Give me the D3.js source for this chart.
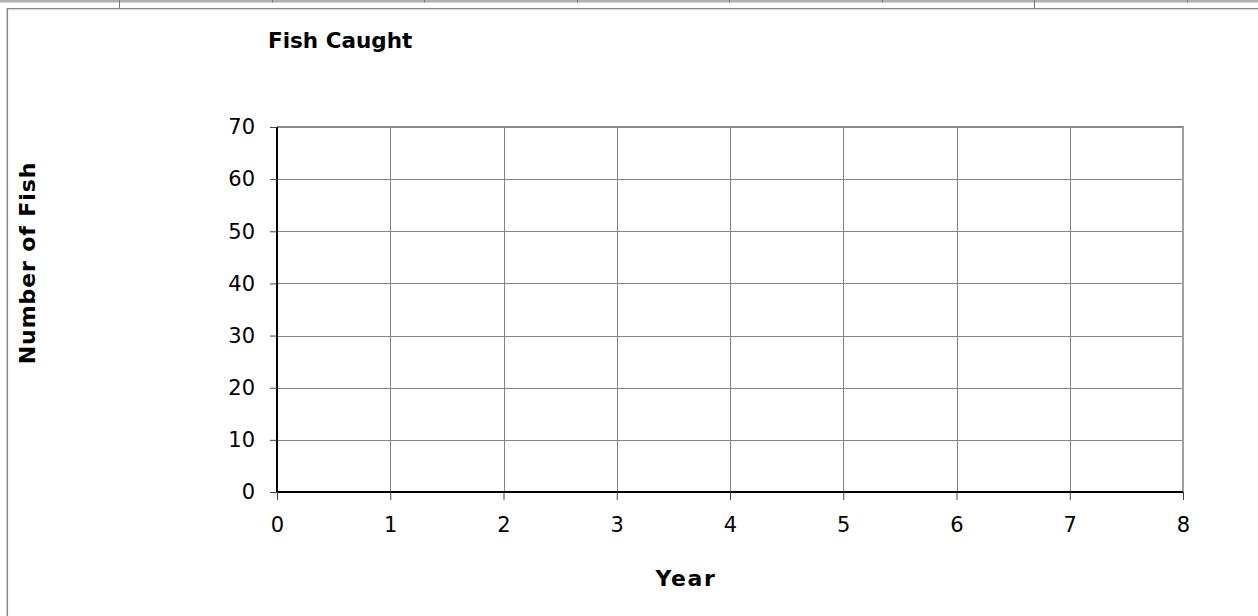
<!DOCTYPE html>
<html>
<head>
<meta charset="utf-8">
<script src="https://cdn.jsdelivr.net/npm/d3@7"></script>
<style>
  html, body { margin: 0; padding: 0; background: #fff; }
  svg { display: block; }
  text { font-family: "DejaVu Sans", Verdana, sans-serif; fill: #000; }
</style>
</head>
<body>
<div id="chart"></div>
<script>
// Axis ranges and tick values for the empty catch log
const years = [0, 1, 2, 3, 4, 5, 6, 7, 8];
const fishTicks = [0, 10, 20, 30, 40, 50, 60, 70];
const fishCaught = [];            // no yearly counts entered yet
const sheetColumns = [119, 272, 424, 577, 729, 882, 1034, 1187];

const W = 1258, H = 616;
const plot = { left: 277, right: 1183, top: 127, bottom: 492 };

const svg = d3.select("#chart").append("svg")
  .attr("width", W).attr("height", H);

// spreadsheet strip behind the chart object
svg.append("rect").attr("x", 0).attr("y", 0).attr("width", W).attr("height", 2.5)
  .attr("fill", "#b0b0b0");
svg.selectAll(".colmark").data(sheetColumns).join("line")
  .attr("x1", d => d + 0.5).attr("x2", d => d + 0.5)
  .attr("y1", 0).attr("y2", (d, i) => (i === 0 || i === 6) ? 9 : 2.5)
  .attr("stroke", "#777").attr("stroke-width", 1);

// chart area frame
svg.append("line").attr("x1", 7).attr("x2", W).attr("y1", 8.5).attr("y2", 8.5)
  .attr("stroke", "#8a8a8a").attr("stroke-width", 1.2);
svg.append("line").attr("x1", 7).attr("x2", W).attr("y1", 9.7).attr("y2", 9.7)
  .attr("stroke", "#d4d4d4").attr("stroke-width", 1);
svg.append("line").attr("x1", 7.3).attr("x2", 7.3).attr("y1", 8).attr("y2", H)
  .attr("stroke", "#8a8a8a").attr("stroke-width", 1.6);

const x = d3.scaleLinear().domain(d3.extent(years)).range([plot.left, plot.right]);
const y = d3.scaleLinear().domain(d3.extent(fishTicks)).range([plot.bottom, plot.top]);

// gridlines
const grid = svg.append("g");
grid.selectAll(".vg").data(years.slice(1, -1)).join("line")
  .attr("x1", d => Math.round(x(d)) + 0.5).attr("x2", d => Math.round(x(d)) + 0.5)
  .attr("y1", plot.top).attr("y2", plot.bottom)
  .attr("stroke", "#858585").attr("stroke-width", 1);
grid.selectAll(".hg").data(fishTicks.slice(1, -1)).join("line")
  .attr("x1", plot.left).attr("x2", plot.right)
  .attr("y1", d => Math.round(y(d)) + 0.5).attr("y2", d => Math.round(y(d)) + 0.5)
  .attr("stroke", "#858585").attr("stroke-width", 1);

// plot area border (top and right)
svg.append("line").attr("x1", plot.left).attr("x2", plot.right + 1)
  .attr("y1", plot.top).attr("y2", plot.top)
  .attr("stroke", "#8a8a8a").attr("stroke-width", 2);
svg.append("line").attr("x1", plot.right).attr("x2", plot.right)
  .attr("y1", plot.top).attr("y2", plot.bottom)
  .attr("stroke", "#a0a0a0").attr("stroke-width", 2);

// series line (empty)
svg.append("path").datum(fishCaught)
  .attr("fill", "none").attr("stroke", "#000080").attr("stroke-width", 2)
  .attr("d", d3.line().x(d => x(d.year)).y(d => y(d.count)));

// axes
const yAxis = d3.axisLeft(y).tickValues(fishTicks).tickSize(7).tickPadding(15)
  .tickFormat(d3.format("d"));
const gy = svg.append("g").attr("transform", `translate(${plot.left},0)`).call(yAxis);

const xAxis = d3.axisBottom(x).tickValues(years).tickSize(8).tickPadding(17)
  .tickFormat(d3.format("d"));
const gx = svg.append("g").attr("transform", `translate(0,${plot.bottom})`).call(xAxis);

[gx, gy].forEach(g => {
  g.select(".domain").attr("stroke", "#000").attr("stroke-width", 2);
  g.selectAll(".tick line").attr("stroke", "#444").attr("stroke-width", 1);
  g.selectAll(".tick text").attr("font-size", 21)
    .attr("font-family", "'DejaVu Sans', Verdana, sans-serif").attr("fill", "#000");
});
gy.select(".domain").attr("d", `M0,${plot.top}V${plot.bottom}`);
gx.select(".domain").attr("d", `M${plot.left},0H${plot.right}`);

// titles
svg.append("text").attr("x", 268).attr("y", 48)
  .attr("font-size", 21.5).attr("font-weight", "bold").text("Fish Caught");

svg.append("text").attr("transform", "translate(35,263) rotate(-90)")
  .attr("text-anchor", "middle").attr("font-size", 22).attr("font-weight", "bold")
  .attr("letter-spacing", 0.9)
  .text("Number of Fish");

svg.append("text").attr("x", 686).attr("y", 586)
  .attr("text-anchor", "middle").attr("font-size", 22).attr("font-weight", "bold")
  .attr("letter-spacing", 1.6)
  .text("Year");
</script>
</body>
</html>
